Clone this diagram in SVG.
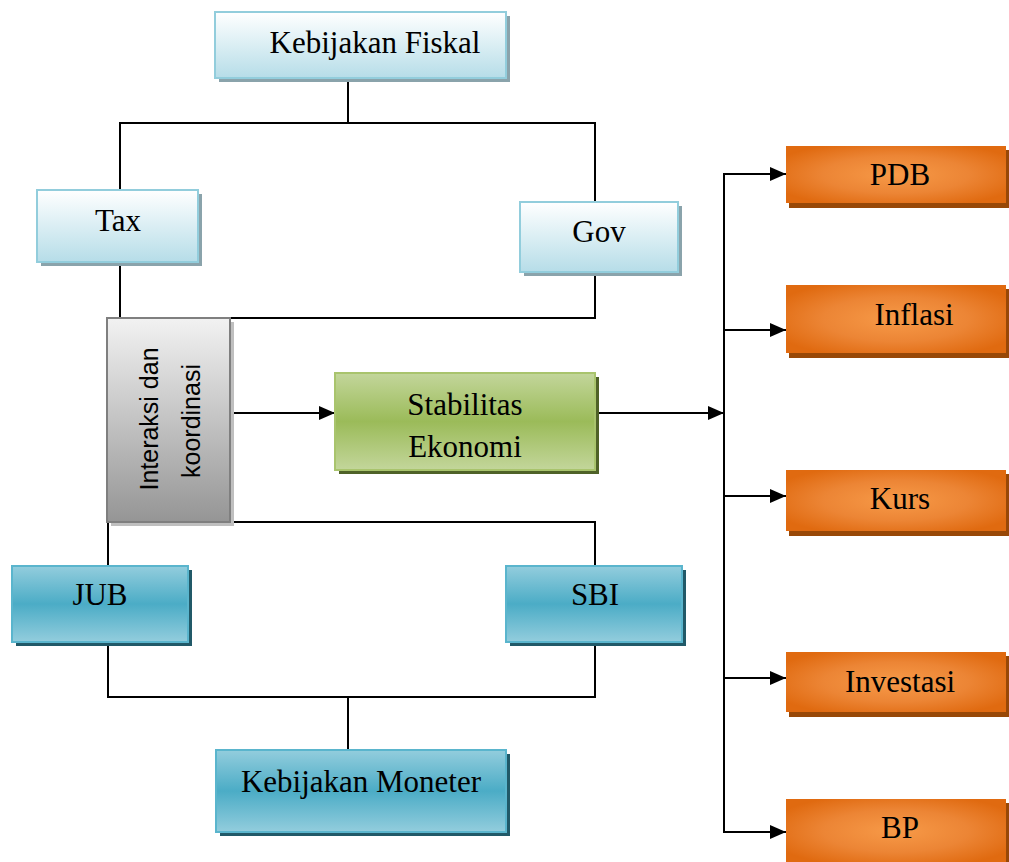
<svg xmlns="http://www.w3.org/2000/svg" width="1009" height="862" viewBox="0 0 1009 862">
<defs>
<linearGradient id="gLight" x1="0" y1="0" x2="0" y2="1">
<stop offset="0" stop-color="#ffffff"/>
<stop offset="1" stop-color="#b6dde8"/>
</linearGradient>
<linearGradient id="gBlue" x1="0" y1="0" x2="0" y2="1">
<stop offset="0" stop-color="#93cddd"/>
<stop offset="0.5" stop-color="#4bacc6"/>
<stop offset="1" stop-color="#93cddd"/>
</linearGradient>
<linearGradient id="gGreen" x1="0" y1="0" x2="0" y2="1">
<stop offset="0" stop-color="#c3d69b"/>
<stop offset="0.5" stop-color="#9bbb59"/>
<stop offset="1" stop-color="#c3d69b"/>
</linearGradient>
<linearGradient id="gGray" x1="0" y1="0" x2="0" y2="1">
<stop offset="0" stop-color="#f2f2f2"/>
<stop offset="1" stop-color="#959595"/>
</linearGradient>
<radialGradient id="gOrange" cx="0.5" cy="0.5" r="0.6" gradientTransform="translate(0.5 0.5) scale(1 1) translate(-0.5 -0.5)">
<stop offset="0" stop-color="#f79a48"/>
<stop offset="0.55" stop-color="#ec8535"/>
<stop offset="1" stop-color="#e06a10"/>
</radialGradient>
<marker id="arr" viewBox="0 0 16 14" refX="16" refY="7" markerWidth="16" markerHeight="14" markerUnits="userSpaceOnUse" orient="auto">
<path d="M0,0 L16,7 L0,14 Z" fill="#000"/>
</marker>
</defs>
<style>
.ln{fill:none;stroke:#000;stroke-width:2}
.ar{fill:none;stroke:#000;stroke-width:2.2;marker-end:url(#arr)}
.t{font-family:"Liberation Serif","Times New Roman",serif;font-size:31px;fill:#000;text-anchor:middle}
.ts{font-family:"Liberation Sans",Arial,sans-serif;font-size:25px;fill:#000;text-anchor:middle}
.light{fill:url(#gLight);stroke:#92cddc;stroke-width:2}
.lightSh{fill:#8aa3ab}
.blue{fill:url(#gBlue);stroke:#5ab5cd;stroke-width:2}
.blueSh{fill:#215968}
.green{fill:url(#gGreen);stroke:#a9c46d;stroke-width:2}
.greenSh{fill:#4f6228}
.gray{fill:url(#gGray);stroke:#7f7f7f;stroke-width:2}
.graySh{fill:#bfbfbf}
.orange{fill:url(#gOrange)}
.orangeSh{fill:#984807}
</style>
<rect width="1009" height="862" fill="#fff"/>
<g id="connectors">
<path class="ln" d="M348,78 V123 M120,190 V123 H595 V202"/>
<path class="ln" d="M120,262 V318 M595,272 V318 H120"/>
<path class="ln" d="M108,566 V522 H595 V566"/>
<path class="ln" d="M108,642 V697 H595 V642 M348,697 V750"/>
<path class="ar" d="M230,413 H335"/>
<path class="ar" d="M595,413 H724"/>
<path class="ln" d="M724,174 V832"/>
<path class="ar" d="M723,174 H786"/>
<path class="ar" d="M723,330 H786"/>
<path class="ar" d="M723,496 H786"/>
<path class="ar" d="M723,678 H786"/>
<path class="ar" d="M723,832 H786"/>
</g>
<g id="kebijakan-fiskal">
<rect class="lightSh" x="219" y="16" width="291" height="66"/>
<rect class="light" x="215" y="12" width="291" height="66"/>
<text class="t" x="375" y="53">Kebijakan Fiskal</text>
</g>
<g id="tax">
<rect class="lightSh" x="41" y="194" width="161" height="72"/>
<rect class="light" x="37" y="190" width="161" height="72"/>
<text class="t" x="118" y="231">Tax</text>
</g>
<g id="gov">
<rect class="lightSh" x="524" y="206" width="158" height="70"/>
<rect class="light" x="520" y="202" width="158" height="70"/>
<text class="t" x="599" y="242">Gov</text>
</g>
<g id="interaksi">
<rect class="graySh" x="111" y="322" width="123" height="204"/>
<rect class="gray" x="107" y="318" width="123" height="204"/>
<text class="ts" transform="translate(158,419) rotate(-90)">Interaksi dan</text>
<text class="ts" transform="translate(200,421) rotate(-90)">koordinasi</text>
</g>
<g id="stabilitas">
<rect class="greenSh" x="339" y="377" width="260" height="97"/>
<rect class="green" x="335" y="373" width="260" height="97"/>
<text class="t" x="465" y="415">Stabilitas</text>
<text class="t" x="465" y="457">Ekonomi</text>
</g>
<g id="jub">
<rect class="blueSh" x="16" y="570" width="176" height="76"/>
<rect class="blue" x="12" y="566" width="176" height="76"/>
<text class="t" x="100" y="605">JUB</text>
</g>
<g id="sbi">
<rect class="blueSh" x="510" y="570" width="176" height="76"/>
<rect class="blue" x="506" y="566" width="176" height="76"/>
<text class="t" x="595" y="605">SBI</text>
</g>
<g id="kebijakan-moneter">
<rect class="blueSh" x="220" y="754" width="290" height="82"/>
<rect class="blue" x="216" y="750" width="290" height="82"/>
<text class="t" x="361" y="792">Kebijakan Moneter</text>
</g>
<g id="pdb">
<rect class="orangeSh" x="789" y="150" width="220" height="58"/>
<rect class="orange" x="786" y="146" width="220" height="57"/>
<text class="t" x="900" y="185">PDB</text>
</g>
<g id="inflasi">
<rect class="orangeSh" x="789" y="289" width="220" height="69"/>
<rect class="orange" x="786" y="285" width="220" height="68"/>
<text class="t" x="914" y="325">Inflasi</text>
</g>
<g id="kurs">
<rect class="orangeSh" x="789" y="474" width="220" height="62"/>
<rect class="orange" x="786" y="470" width="220" height="61"/>
<text class="t" x="900" y="509">Kurs</text>
</g>
<g id="investasi">
<rect class="orangeSh" x="789" y="656" width="220" height="61"/>
<rect class="orange" x="786" y="652" width="220" height="60"/>
<text class="t" x="900" y="692">Investasi</text>
</g>
<g id="bp">
<rect class="orangeSh" x="789" y="803" width="220" height="64"/>
<rect class="orange" x="786" y="799" width="220" height="64"/>
<text class="t" x="900" y="838">BP</text>
</g>
</svg>
